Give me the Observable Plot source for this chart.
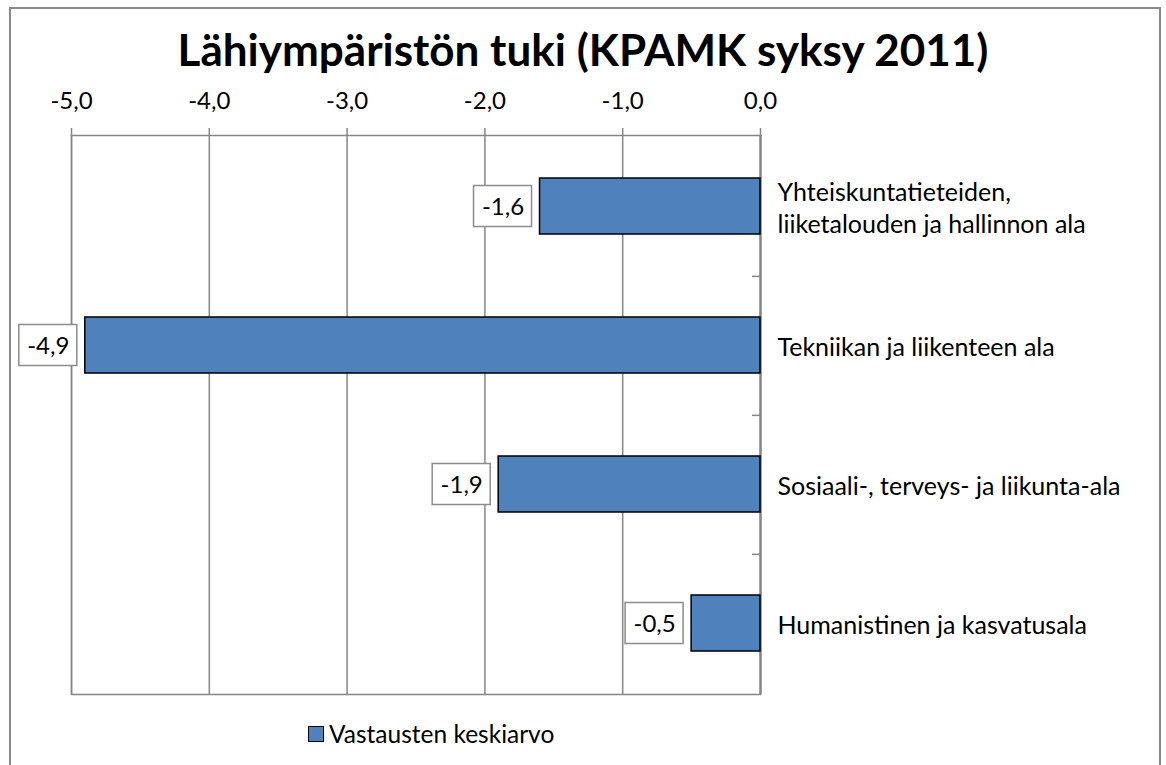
<!DOCTYPE html>
<html>
<head>
<meta charset="utf-8">
<script src="https://cdn.jsdelivr.net/npm/d3@7"></script>
<script src="https://cdn.jsdelivr.net/npm/@observablehq/plot@0.6"></script>
<style>
  html, body { margin: 0; padding: 0; background: #fff; overflow: hidden; }
  #wrap { position: relative; width: 1166px; height: 765px; font-family: Lato, "Open Sans", sans-serif; }
  #border { position: absolute; left: 9px; top: 7px; width: 1152px; height: 800px; border: 2px solid #8a8a8a; box-sizing: border-box; }
  #title { position: absolute; left: 0; width: 1166px; top: 27px; text-align: center; font-weight: 700; font-size: 44px; color: #000; line-height: 1; }
  #chart { position: absolute; left: 0; top: 0; }
  #legend { position: absolute; left: 308px; top: 719px; font-size: 24.5px; color: #000; display: flex; align-items: center; }
  #legend .sw { width: 14px; height: 14px; background: #4F81BD; border: 1px solid #000; margin-right: 5px; }
</style>
</head>
<body>
<div id="wrap">
  <div id="border"></div>
  <div id="chart"></div>
  <div id="title">Lähiympäristön tuki (KPAMK syksy 2011)</div>
  <div id="legend"><span class="sw"></span><span>Vastausten keskiarvo</span></div>
</div>
<script>
const categories = [
  "Yhteiskuntatieteiden,\nliiketalouden ja hallinnon ala",
  "Tekniikan ja liikenteen ala",
  "Sosiaali-, terveys- ja liikunta-ala",
  "Humanistinen ja kasvatusala"
];
const values = [-1.6, -4.9, -1.9, -0.5];
const xTicks = [-5, -4, -3, -2, -1, 0];
const seriesName = "Vastausten keskiarvo";

const data = categories.map((c, i) => ({category: c, value: values[i]}));
const fmt = d => d.toFixed(1).replace(".", ",");
const grid = "#868686";
const font = "Lato, 'Open Sans', sans-serif";

const chart = Plot.plot({
  width: 1166,
  height: 765,
  marginTop: 135,
  marginBottom: 71,
  marginLeft: 71,
  marginRight: 406,
  style: {fontFamily: font, fontSize: "24px", color: "#000", background: "transparent", overflow: "visible"},
  x: {domain: [-5, 0], ticks: xTicks},
  y: {domain: categories, paddingInner: 0.6, paddingOuter: 0.3, axis: null},
  marks: [
    Plot.gridX(xTicks, {stroke: grid, strokeOpacity: 1, strokeWidth: 1.5}),
    Plot.frame({stroke: grid, strokeWidth: 1.5}),
    Plot.ruleX([0], {stroke: grid, strokeWidth: 2.2}),
    Plot.ruleY(categories.slice(0, 3), {y: d => d, x1: -0.058, x2: 0, dy: 69.875, stroke: grid, strokeWidth: 1.5}),
    Plot.axisX(xTicks, {anchor: "top", tickSize: 8, tickPadding: 19, tickFormat: fmt, stroke: grid, strokeWidth: 1.5, fontSize: 24, label: null}),
    Plot.barX(data, {y: "category", x: "value", fill: "#4F81BD", stroke: "#000", strokeWidth: 1.5}),
    Plot.rectX(data, {y: "category", x1: "value", x2: "value", insetLeft: -66, insetRight: 8, insetTop: 7.5, insetBottom: 7.5, fill: "#fff", stroke: "#8c8c8c", strokeWidth: 1.5}),
    Plot.text(data, {y: "category", x: "value", text: d => fmt(d.value), dx: -37, dy: 1, textAnchor: "middle", fontSize: 24, fill: "#000"}),
    Plot.text(data, {y: "category", x: () => 0, text: "category", dx: 17, textAnchor: "start", lineHeight: 1.3, fontSize: 25, fill: "#000"})
  ]
});
document.getElementById("chart").appendChild(chart);
</script>
</body>
</html>
